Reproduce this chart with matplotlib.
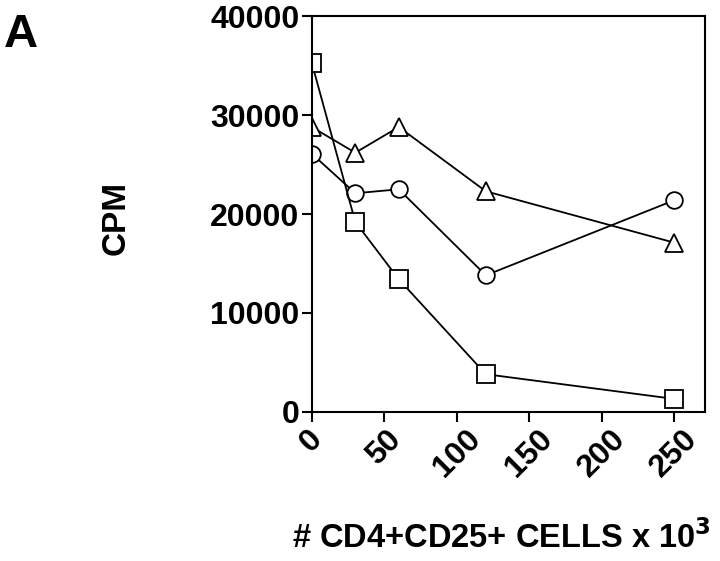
import matplotlib
matplotlib.use("Agg")
import matplotlib.pyplot as plt

# cells added (x 10^3)
cells = [0, 30, 60, 120, 250]

# CPM for each of the three series
cpm_square = [35300, 19200, 13400, 3800, 1300]
cpm_triangle = [28800, 26200, 28800, 22300, 17100]
cpm_circle = [26100, 22100, 22500, 13800, 21400]

x_ticks = [0, 50, 100, 150, 200, 250]
y_ticks = [0, 10000, 20000, 30000, 40000]

plt.rcParams["font.family"] = ["Liberation Sans", "DejaVu Sans"]
plt.rcParams["font.weight"] = "bold"

fig = plt.figure(figsize=(7.2, 5.61), dpi=100)
ax = fig.add_axes([0.433, 0.266, 0.546, 0.705])

line_kw = dict(color="black", lw=1.3, markerfacecolor="white",
               markeredgecolor="black", markeredgewidth=1.3)
ax.plot(cells, cpm_triangle, marker="^", ms=13, **line_kw)
ax.plot(cells, cpm_circle, marker="o", ms=12, **line_kw)
ax.plot(cells, cpm_square, marker="s", ms=13, **line_kw)

ax.set_xlim(0, 271)
ax.set_ylim(0, 40000)
ax.set_xticks(x_ticks)
ax.set_yticks(y_ticks)
ax.set_xticklabels([str(t) for t in x_ticks], rotation=45, ha="center",
                   va="top", fontsize=23, fontweight="bold")
ax.set_yticklabels([str(t) for t in y_ticks], fontsize=23, fontweight="bold")
ax.tick_params(direction="out", length=7, width=1.5, pad=2)

for s in ax.spines.values():
    s.set_linewidth(1.5)

ax.set_ylabel("CPM", fontsize=24, fontweight="bold")
ax.set_xlabel("# CD4+CD25+ CELLS x 10$^\\mathbf{3}$", fontsize=23.5,
              fontweight="bold")
ax.xaxis.set_label_coords(0.483, -0.274)
ax.yaxis.set_label_coords(-0.458, 0.49)

fig.text(0.006, 0.977, "A", fontsize=34, fontweight="bold", va="top", ha="left")

fig.savefig("out.png", dpi=100, facecolor="white")
